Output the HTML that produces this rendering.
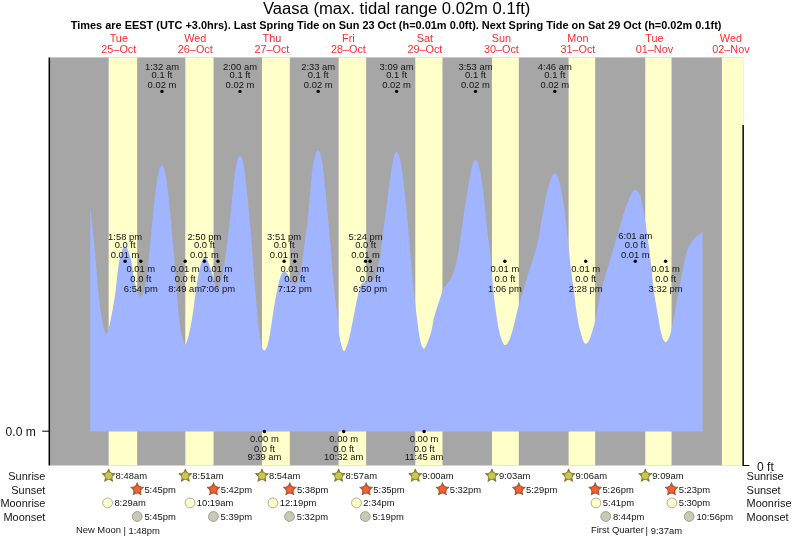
<!DOCTYPE html>
<html lang="en"><head><meta charset="utf-8"><title>Vaasa tide times</title>
<style>html,body{margin:0;padding:0;background:#fff}svg{display:block}text{font-family:"Liberation Sans",Arial,Helvetica,sans-serif}</style></head><body>
<svg width="793" height="539" viewBox="0 0 793 539">
<rect width="793" height="539" fill="#fff"/>
<rect x="50.0" y="57.4" width="693.2" height="408.1" fill="#a6a6a6"/>
<rect x="108.65" y="57.4" width="28.53" height="408.1" fill="#ffffc9"/>
<rect x="185.31" y="57.4" width="28.21" height="408.1" fill="#ffffc9"/>
<rect x="261.97" y="57.4" width="27.84" height="408.1" fill="#ffffc9"/>
<rect x="338.63" y="57.4" width="27.52" height="408.1" fill="#ffffc9"/>
<rect x="415.29" y="57.4" width="27.20" height="408.1" fill="#ffffc9"/>
<rect x="491.95" y="57.4" width="26.88" height="408.1" fill="#ffffc9"/>
<rect x="568.61" y="57.4" width="26.56" height="408.1" fill="#ffffc9"/>
<rect x="645.27" y="57.4" width="26.24" height="408.1" fill="#ffffc9"/>
<rect x="721.92" y="57.4" width="21.28" height="408.1" fill="#ffffc9"/>
<polygon points="90.2,431.6 90.2,207.0 90.7,211.5 91.2,216.0 91.7,220.6 92.2,225.4 92.7,230.2 93.2,235.0 93.7,240.0 94.2,245.0 94.7,250.0 95.2,255.1 95.7,260.4 96.2,265.8 96.7,271.4 97.2,277.5 97.7,283.7 98.2,289.7 98.7,295.1 99.2,299.8 99.7,303.9 100.2,307.8 100.7,311.3 101.2,314.6 101.7,317.7 102.2,320.7 102.7,323.5 103.2,326.0 103.7,328.1 104.2,329.8 104.7,331.2 105.2,332.3 105.7,333.4 106.2,333.7 106.7,333.3 107.2,332.4 107.7,331.5 108.2,330.1 108.7,328.4 109.2,326.6 109.7,324.4 110.2,322.1 110.7,319.6 111.2,317.0 111.7,314.5 112.2,311.9 112.7,309.2 113.2,306.5 113.7,303.6 114.2,300.6 114.7,297.3 115.2,293.7 115.7,289.6 116.2,285.2 116.7,280.7 117.2,276.3 117.7,271.9 118.2,267.9 118.7,264.4 119.2,261.5 119.7,258.9 120.2,256.7 120.7,254.7 121.2,252.9 121.7,251.4 122.2,249.9 122.7,248.8 123.2,248.1 123.7,247.5 124.2,247.0 124.7,246.7 125.2,246.7 125.7,247.0 126.2,247.4 126.7,247.9 127.2,248.5 127.7,249.4 128.2,250.6 128.7,251.9 129.2,253.3 129.7,254.9 130.2,256.7 130.7,258.7 131.2,261.0 131.7,263.8 132.2,267.0 132.7,270.5 133.2,274.0 133.7,277.2 134.2,280.0 134.7,282.4 135.2,284.6 135.7,286.8 136.2,288.7 136.7,290.4 137.2,291.8 137.7,292.9 138.2,293.8 138.7,294.6 139.2,295.4 139.7,296.0 140.2,296.4 140.7,296.6 141.2,296.5 141.7,296.0 142.2,295.2 142.7,294.2 143.2,293.1 143.7,291.8 144.2,290.1 144.7,287.8 145.2,285.2 145.7,282.5 146.2,279.6 146.7,276.3 147.2,272.7 147.7,268.8 148.2,264.6 148.7,260.0 149.2,254.6 149.7,248.9 150.2,243.5 150.7,238.2 151.2,232.9 151.7,227.6 152.2,222.4 152.7,217.4 153.2,212.5 153.7,207.7 154.2,203.1 154.7,198.5 155.2,194.1 155.7,189.8 156.2,185.9 156.7,182.4 157.2,179.4 157.7,176.4 158.2,173.8 158.7,171.5 159.2,169.8 159.7,168.5 160.2,167.4 160.7,166.4 161.2,165.6 161.7,165.2 162.2,165.3 162.7,165.8 163.2,166.7 163.7,167.8 164.2,169.1 164.7,170.6 165.2,172.6 165.7,175.2 166.2,178.2 166.7,181.5 167.2,184.9 167.7,188.8 168.2,193.3 168.7,198.0 169.2,203.0 169.7,208.0 170.2,213.1 170.7,218.3 171.2,223.8 171.7,229.3 172.2,235.0 172.7,240.7 173.2,246.5 173.7,252.3 174.2,258.2 174.7,264.3 175.2,270.5 175.7,277.1 176.2,283.8 176.7,290.6 177.2,297.3 177.7,304.2 178.2,310.1 178.7,315.0 179.2,319.3 179.7,323.1 180.2,326.5 180.7,329.6 181.2,332.4 181.7,334.8 182.2,337.0 182.7,338.8 183.2,340.6 183.7,342.3 184.2,343.7 184.7,344.5 185.2,344.7 185.7,344.2 186.2,343.2 186.7,341.8 187.2,340.3 187.7,338.6 188.2,337.1 188.7,335.2 189.2,333.2 189.7,330.9 190.2,328.5 190.7,326.0 191.2,323.3 191.7,320.5 192.2,317.4 192.7,314.2 193.2,310.8 193.7,307.3 194.2,303.2 194.7,299.3 195.2,295.5 195.7,291.9 196.2,288.5 196.7,285.2 197.2,282.2 197.7,279.2 198.2,276.3 198.7,273.6 199.2,271.1 199.7,268.9 200.2,266.8 200.7,264.9 201.2,263.1 201.7,261.5 202.2,260.3 202.7,259.2 203.2,258.2 203.7,257.4 204.2,256.9 204.7,257.0 205.2,257.4 205.7,258.0 206.2,258.7 206.7,259.5 207.2,260.3 207.7,261.3 208.2,262.4 208.7,263.5 209.2,264.8 209.7,266.0 210.2,267.5 210.7,269.1 211.2,270.7 211.7,272.4 212.2,274.1 212.7,275.8 213.2,277.5 213.7,279.0 214.2,280.5 214.7,282.1 215.2,283.8 215.7,285.5 216.2,287.0 216.7,288.2 217.2,288.9 217.7,288.9 218.2,288.3 218.7,287.2 219.2,285.6 219.7,283.8 220.2,282.0 220.7,280.2 221.2,278.5 221.7,276.6 222.2,274.6 222.7,272.5 223.2,270.1 223.7,267.7 224.2,265.0 224.7,262.0 225.2,258.5 225.7,254.7 226.2,250.8 226.7,246.9 227.2,242.8 227.7,238.6 228.2,234.3 228.7,229.9 229.2,225.5 229.7,221.0 230.2,216.4 230.7,211.9 231.2,207.3 231.7,202.7 232.2,198.1 232.7,193.3 233.2,188.2 233.7,183.3 234.2,178.8 234.7,174.9 235.2,171.4 235.7,168.1 236.2,165.1 236.7,162.5 237.2,160.6 237.7,159.1 238.2,157.8 238.7,156.7 239.2,155.8 239.7,155.3 240.2,155.2 240.7,155.7 241.2,156.6 241.7,157.7 242.2,159.1 242.7,160.6 243.2,162.7 243.7,165.5 244.2,168.6 244.7,172.1 245.2,175.7 245.7,180.0 246.2,184.8 246.7,189.9 247.2,195.0 247.7,200.0 248.2,204.9 248.7,209.9 249.2,214.9 249.7,220.1 250.2,225.5 250.7,231.2 251.2,237.2 251.7,243.6 252.2,250.3 252.7,257.1 253.2,264.0 253.7,270.9 254.2,277.6 254.7,284.0 255.2,290.0 255.7,295.8 256.2,301.6 256.7,307.3 257.2,312.8 257.7,318.2 258.2,323.3 258.7,328.1 259.2,332.5 259.7,336.6 260.2,340.5 260.7,343.0 261.2,344.7 261.7,346.3 262.2,347.7 262.7,348.8 263.2,349.7 263.7,350.2 264.2,350.4 264.7,350.2 265.2,349.8 265.7,349.3 266.2,348.4 266.7,347.3 267.2,346.0 267.7,344.4 268.2,342.6 268.7,340.4 269.2,337.8 269.7,335.0 270.2,332.2 270.7,329.1 271.2,326.0 271.7,322.7 272.2,319.3 272.7,316.0 273.2,312.6 273.7,309.3 274.2,306.1 274.7,303.1 275.2,300.2 275.7,297.5 276.2,295.0 276.7,292.7 277.2,290.5 277.7,288.1 278.2,285.7 278.7,283.3 279.2,281.2 279.7,279.3 280.2,277.7 280.7,276.1 281.2,274.8 281.7,273.8 282.2,273.1 282.7,272.4 283.2,271.9 283.7,271.5 284.2,271.4 284.7,271.5 285.2,271.7 285.7,272.1 286.2,272.6 286.7,273.2 287.2,273.9 287.7,274.6 288.2,275.4 288.7,276.3 289.2,277.2 289.7,278.1 290.2,279.0 290.7,279.8 291.2,280.7 291.7,281.5 292.2,282.2 292.7,282.8 293.2,283.3 293.7,283.8 294.2,284.0 294.7,284.2 295.2,284.1 295.7,283.8 296.2,283.3 296.7,282.5 297.2,281.6 297.7,280.5 298.2,279.5 298.7,278.2 299.2,276.6 299.7,274.6 300.2,272.3 300.7,269.8 301.2,267.2 301.7,264.4 302.2,261.5 302.7,258.0 303.2,254.3 303.7,250.3 304.2,246.3 304.7,242.4 305.2,238.7 305.7,235.4 306.2,232.2 306.7,228.4 307.2,224.1 307.7,219.3 308.2,214.3 308.7,208.9 309.2,203.5 309.7,197.9 310.2,192.4 310.7,186.9 311.2,180.8 311.7,174.8 312.2,170.0 312.7,166.6 313.2,163.7 313.7,161.2 314.2,159.0 314.7,157.0 315.2,155.2 315.7,153.6 316.2,152.5 316.7,151.7 317.2,151.0 317.7,150.5 318.2,150.3 318.7,150.6 319.2,151.2 319.7,152.1 320.2,153.2 320.7,155.0 321.2,157.1 321.7,159.5 322.2,162.4 322.7,165.6 323.2,169.2 323.7,173.3 324.2,178.0 324.7,183.0 325.2,188.0 325.7,193.0 326.2,198.1 326.7,203.3 327.2,208.5 327.7,213.9 328.2,219.2 328.7,224.7 329.2,230.2 329.7,235.8 330.2,241.4 330.7,247.4 331.2,253.5 331.7,259.7 332.2,266.0 332.7,272.1 333.2,278.1 333.7,283.7 334.2,289.0 334.7,293.8 335.2,298.2 335.7,302.3 336.2,306.4 336.7,310.6 337.2,315.0 337.7,320.0 338.2,325.4 338.7,330.3 339.2,334.2 339.7,337.3 340.2,340.0 340.7,342.4 341.2,344.4 341.7,346.1 342.2,347.8 342.7,349.3 343.2,350.5 343.7,351.1 344.2,351.1 344.7,350.7 345.2,349.9 345.7,348.8 346.2,347.6 346.7,346.3 347.2,345.0 347.7,343.6 348.2,341.9 348.7,339.9 349.2,337.9 349.7,335.7 350.2,333.5 350.7,331.2 351.2,328.9 351.7,326.4 352.2,323.8 352.7,321.2 353.2,318.6 353.7,316.0 354.2,313.5 354.7,310.9 355.2,308.3 355.7,305.7 356.2,303.2 356.7,300.8 357.2,298.4 357.7,296.3 358.2,294.1 358.7,292.2 359.2,290.3 359.7,288.6 360.2,286.9 360.7,285.3 361.2,284.2 361.7,283.7 362.2,283.4 362.7,283.0 363.2,282.8 363.7,282.5 364.2,282.3 364.7,282.2 365.2,282.0 365.7,281.8 366.2,281.7 366.7,281.5 367.2,281.4 367.7,281.3 368.2,281.2 368.7,281.1 369.2,281.0 369.7,280.9 370.2,280.8 370.7,280.7 371.2,280.5 371.7,280.4 372.2,280.2 372.7,279.8 373.2,279.4 373.7,278.8 374.2,278.2 374.7,277.4 375.2,276.6 375.7,275.6 376.2,274.2 376.7,272.6 377.2,270.8 377.7,268.5 378.2,265.8 378.7,262.9 379.2,260.3 379.7,258.1 380.2,255.6 380.7,252.4 381.2,248.7 381.7,244.6 382.2,240.4 382.7,236.4 383.2,232.4 383.7,228.4 384.2,224.5 384.7,220.5 385.2,216.5 385.7,212.4 386.2,208.4 386.7,204.4 387.2,200.4 387.7,196.5 388.2,192.6 388.7,188.8 389.2,185.1 389.7,181.5 390.2,178.0 390.7,174.5 391.2,171.3 391.7,168.1 392.2,165.0 392.7,162.2 393.2,159.8 393.7,157.7 394.2,155.8 394.7,154.4 395.2,153.5 395.7,152.7 396.2,152.1 396.7,151.9 397.2,152.1 397.7,152.7 398.2,153.6 398.7,154.6 399.2,155.8 399.7,157.5 400.2,159.8 400.7,162.3 401.2,164.9 401.7,168.0 402.2,171.4 402.7,175.2 403.2,179.2 403.7,183.3 404.2,187.5 404.7,191.9 405.2,196.5 405.7,201.2 406.2,206.1 406.7,211.2 407.2,216.4 407.7,221.8 408.2,227.3 408.7,233.0 409.2,238.8 409.7,245.4 410.2,251.6 410.7,257.5 411.2,263.2 411.7,268.7 412.2,274.0 412.7,279.2 413.2,284.3 413.7,289.2 414.2,294.0 414.7,298.8 415.2,303.4 415.7,307.8 416.2,312.1 416.7,316.2 417.2,320.2 417.7,324.1 418.2,327.9 418.7,331.5 419.2,334.7 419.7,337.5 420.2,340.0 420.7,342.3 421.2,344.3 421.7,345.6 422.2,346.7 422.7,347.6 423.2,348.3 423.7,348.7 424.2,348.6 424.7,348.2 425.2,347.5 425.7,346.5 426.2,345.4 426.7,344.1 427.2,342.9 427.7,341.7 428.2,340.5 428.7,339.3 429.2,338.0 429.7,336.6 430.2,335.1 430.7,333.4 431.2,331.7 431.7,329.6 432.2,326.9 432.7,323.9 433.2,321.1 433.7,318.9 434.2,317.0 434.7,315.2 435.2,313.5 435.7,311.8 436.2,310.2 436.7,308.6 437.2,307.0 437.7,305.4 438.2,303.9 438.7,302.4 439.2,300.9 439.7,299.4 440.2,297.9 440.7,296.5 441.2,295.0 441.7,293.5 442.2,292.0 442.7,290.6 443.2,289.5 443.7,288.6 444.2,287.7 444.7,287.0 445.2,286.3 445.7,285.7 446.2,285.1 446.7,284.5 447.2,283.9 447.7,283.3 448.2,282.7 448.7,282.1 449.2,281.4 449.7,280.7 450.2,279.8 450.7,278.9 451.2,277.9 451.7,276.8 452.2,275.7 452.7,274.4 453.2,273.1 453.7,271.7 454.2,270.2 454.7,268.6 455.2,266.9 455.7,265.2 456.2,263.3 456.7,261.2 457.2,258.8 457.7,256.3 458.2,253.6 458.7,250.6 459.2,247.2 459.7,243.1 460.2,239.3 460.7,235.7 461.2,232.2 461.7,228.7 462.2,225.2 462.7,221.8 463.2,218.4 463.7,215.0 464.2,211.7 464.7,208.5 465.2,205.2 465.7,202.0 466.2,198.8 466.7,195.7 467.2,192.6 467.7,189.6 468.2,186.5 468.7,183.5 469.2,180.6 469.7,177.6 470.2,174.6 470.7,171.8 471.2,169.3 471.7,167.3 472.2,165.3 472.7,163.6 473.2,162.3 473.7,161.5 474.2,160.7 474.7,160.2 475.2,159.8 475.7,159.9 476.2,160.2 476.7,160.8 477.2,161.6 477.7,162.4 478.2,163.7 478.7,165.3 479.2,167.2 479.7,169.2 480.2,171.4 480.7,174.0 481.2,176.9 481.7,180.0 482.2,183.4 482.7,187.3 483.2,191.5 483.7,196.0 484.2,200.8 484.7,205.7 485.2,210.7 485.7,215.7 486.2,220.6 486.7,225.4 487.2,230.1 487.7,234.4 488.2,238.5 488.7,242.0 489.2,245.2 489.7,248.8 490.2,253.4 490.7,258.8 491.2,264.7 491.7,270.9 492.2,277.1 492.7,283.2 493.2,288.9 493.7,294.1 494.2,298.5 494.7,302.7 495.2,306.5 495.7,310.2 496.2,313.6 496.7,316.9 497.2,320.2 497.7,323.5 498.2,326.5 498.7,329.0 499.2,331.3 499.7,333.5 500.2,335.4 500.7,337.0 501.2,338.4 501.7,339.7 502.2,341.0 502.7,342.2 503.2,343.3 503.7,344.2 504.2,344.8 504.7,345.1 505.2,345.1 505.7,344.9 506.2,344.6 506.7,344.2 507.2,343.7 507.7,343.0 508.2,342.2 508.7,341.3 509.2,340.2 509.7,339.0 510.2,337.7 510.7,336.3 511.2,334.8 511.7,333.2 512.2,331.5 512.7,329.8 513.2,328.0 513.7,326.1 514.2,324.1 514.7,321.9 515.2,319.8 515.7,317.6 516.2,315.4 516.7,313.3 517.2,311.2 517.7,309.1 518.2,307.3 518.7,305.5 519.2,303.9 519.7,302.3 520.2,300.7 520.7,299.2 521.2,297.6 521.7,296.0 522.2,294.3 522.7,292.6 523.2,290.9 523.7,289.2 524.2,287.4 524.7,285.7 525.2,283.9 525.7,282.2 526.2,280.4 526.7,278.7 527.2,277.0 527.7,275.3 528.2,273.7 528.7,272.0 529.2,270.5 529.7,268.9 530.2,267.3 530.7,265.8 531.2,264.2 531.7,262.7 532.2,261.1 532.7,259.6 533.2,258.0 533.7,256.4 534.2,254.8 534.7,253.3 535.2,251.7 535.7,250.1 536.2,248.4 536.7,246.5 537.2,244.5 537.7,242.3 538.2,240.0 538.7,237.4 539.2,234.6 539.7,231.5 540.2,228.3 540.7,225.1 541.2,221.9 541.7,218.9 542.2,216.0 542.7,213.5 543.2,211.5 543.7,209.4 544.2,206.8 544.7,203.3 545.2,200.3 545.7,197.9 546.2,195.7 546.7,193.6 547.2,191.5 547.7,189.5 548.2,187.6 548.7,185.8 549.2,184.1 549.7,182.5 550.2,181.0 550.7,179.6 551.2,178.3 551.7,176.9 552.2,175.7 552.7,174.8 553.2,174.2 553.7,173.7 554.2,173.3 554.7,173.1 555.2,173.2 555.7,173.5 556.2,174.0 556.7,174.6 557.2,175.4 557.7,176.7 558.2,178.2 558.7,179.7 559.2,181.3 559.7,183.0 560.2,184.9 560.7,186.9 561.2,189.4 561.7,192.1 562.2,194.8 562.7,197.7 563.2,200.8 563.7,203.9 564.2,207.3 564.7,211.1 565.2,215.1 565.7,219.4 566.2,223.9 566.7,228.6 567.2,233.4 567.7,238.2 568.2,243.2 568.7,248.2 569.2,253.1 569.7,258.0 570.2,263.1 570.7,268.0 571.2,272.1 571.7,275.8 572.2,279.3 572.7,282.6 573.2,286.0 573.7,289.5 574.2,293.2 574.7,297.4 575.2,301.8 575.7,306.0 576.2,309.6 576.7,313.0 577.2,316.3 577.7,319.2 578.2,322.0 578.7,324.5 579.2,326.8 579.7,328.8 580.2,330.8 580.7,332.6 581.2,334.3 581.7,336.0 582.2,337.8 582.7,339.4 583.2,340.7 583.7,341.8 584.2,342.7 584.7,343.2 585.2,343.6 585.7,343.8 586.2,343.8 586.7,343.6 587.2,343.2 587.7,342.8 588.2,342.1 588.7,341.2 589.2,340.3 589.7,339.1 590.2,337.8 590.7,336.3 591.2,334.8 591.7,333.3 592.2,331.7 592.7,330.0 593.2,328.3 593.7,326.5 594.2,324.5 594.7,322.4 595.2,320.0 595.7,317.6 596.2,315.0 596.7,312.3 597.2,309.7 597.7,307.0 598.2,304.4 598.7,301.6 599.2,298.9 599.7,296.6 600.2,294.4 600.7,292.3 601.2,290.2 601.7,288.3 602.2,286.4 602.7,284.5 603.2,282.7 603.7,281.0 604.2,279.2 604.7,277.5 605.2,275.9 605.7,274.2 606.2,272.6 606.7,271.0 607.2,269.3 607.7,267.7 608.2,266.0 608.7,264.4 609.2,262.7 609.7,261.0 610.2,259.3 610.7,257.6 611.2,256.0 611.7,254.3 612.2,252.7 612.7,251.0 613.2,249.3 613.7,247.6 614.2,245.9 614.7,244.2 615.2,242.5 615.7,240.8 616.2,239.1 616.7,237.4 617.2,235.7 617.7,234.0 618.2,232.3 618.7,230.6 619.2,228.9 619.7,227.1 620.2,225.4 620.7,223.7 621.2,222.1 621.7,220.4 622.2,218.7 622.7,217.0 623.2,215.4 623.7,213.8 624.2,212.2 624.7,210.7 625.2,209.1 625.7,207.6 626.2,206.1 626.7,204.7 627.2,203.3 627.7,202.0 628.2,200.8 628.7,199.7 629.2,198.6 629.7,197.5 630.2,196.4 630.7,195.4 631.2,194.4 631.7,193.3 632.2,192.4 632.7,191.6 633.2,191.0 633.7,190.5 634.2,190.2 634.7,190.0 635.2,189.9 635.7,190.0 636.2,190.2 636.7,190.4 637.2,190.8 637.7,191.3 638.2,191.9 638.7,192.6 639.2,193.4 639.7,194.3 640.2,195.6 640.7,197.3 641.2,199.4 641.7,201.7 642.2,204.1 642.7,206.5 643.2,209.0 643.7,211.8 644.2,214.7 644.7,217.7 645.2,220.9 645.7,224.1 646.2,227.5 646.7,230.9 647.2,234.4 647.7,237.9 648.2,241.4 648.7,245.0 649.2,248.8 649.7,252.8 650.2,257.2 650.7,261.9 651.2,266.8 651.7,271.7 652.2,276.6 652.7,281.2 653.2,285.4 653.7,289.2 654.2,292.8 654.7,296.2 655.2,299.5 655.7,302.6 656.2,305.6 656.7,308.6 657.2,311.5 657.7,314.4 658.2,317.3 658.7,320.2 659.2,323.1 659.7,326.0 660.2,328.7 660.7,331.1 661.2,333.2 661.7,335.1 662.2,336.9 662.7,338.4 663.2,339.5 663.7,340.3 664.2,341.0 664.7,341.6 665.2,342.0 665.7,342.1 666.2,341.9 666.7,341.5 667.2,341.0 667.7,340.3 668.2,339.6 668.7,338.8 669.2,337.6 669.7,336.1 670.2,334.4 670.7,332.7 671.2,330.8 671.7,328.6 672.2,326.2 672.7,323.7 673.2,321.1 673.7,318.5 674.2,315.9 674.7,313.3 675.2,310.6 675.7,307.9 676.2,305.2 676.7,302.4 677.2,299.6 677.7,296.8 678.2,294.1 678.7,291.3 679.2,288.6 679.7,285.9 680.2,283.2 680.7,280.5 681.2,277.8 681.7,275.1 682.2,272.4 682.7,269.9 683.2,267.4 683.7,264.9 684.2,262.4 684.7,260.0 685.2,257.6 685.7,255.4 686.2,253.4 686.7,251.8 687.2,250.4 687.7,249.1 688.2,247.9 688.7,246.8 689.2,245.8 689.7,244.9 690.2,244.0 690.7,243.1 691.2,242.4 691.7,241.7 692.2,241.0 692.7,240.4 693.2,239.8 693.7,239.3 694.2,238.8 694.7,238.3 695.2,237.9 695.7,237.4 696.2,237.0 696.7,236.6 697.2,236.1 697.7,235.7 698.2,235.3 698.7,234.9 699.2,234.5 699.7,234.1 700.2,233.7 700.7,233.3 701.2,233.0 701.7,232.6 702.6,232.0 702.6,431.6" fill="#a0b4ff"/>
<line x1="49.3" y1="57.4" x2="49.3" y2="465.5" stroke="#000" stroke-width="1.5"/>
<line x1="42.3" y1="431.2" x2="49.3" y2="431.2" stroke="#000" stroke-width="1"/>
<line x1="743.15" y1="125.1" x2="743.15" y2="465.7" stroke="#111" stroke-width="1.6"/>
<line x1="743.15" y1="465.5" x2="749.5" y2="465.5" stroke="#000" stroke-width="1"/>
<text x="5.6" y="435.8" font-size="12.10" fill="#141414">0.0 m</text>
<text x="757" y="470.5" font-size="12.10" fill="#141414">0 ft</text>
<text x="396.7" y="14.2" font-size="16.62" text-anchor="middle" fill="#000">Vaasa (max. tidal range 0.02m 0.1ft)</text>
<text x="396.1" y="28.5" font-size="10.94" font-weight="bold" text-anchor="middle" fill="#000">Times are EEST (UTC +3.0hrs). Last Spring Tide on Sun 23 Oct (h=0.01m 0.0ft). Next Spring Tide on Sat 29 Oct (h=0.02m 0.1ft)</text>
<text x="118.8" y="41.7" font-size="10.85" text-anchor="middle" fill="#ff2b2b">Tue</text>
<text x="118.8" y="52.8" font-size="10.85" text-anchor="middle" fill="#ff2b2b">25–Oct</text>
<text x="195.3" y="41.7" font-size="10.85" text-anchor="middle" fill="#ff2b2b">Wed</text>
<text x="195.3" y="52.8" font-size="10.85" text-anchor="middle" fill="#ff2b2b">26–Oct</text>
<text x="271.9" y="41.7" font-size="10.85" text-anchor="middle" fill="#ff2b2b">Thu</text>
<text x="271.9" y="52.8" font-size="10.85" text-anchor="middle" fill="#ff2b2b">27–Oct</text>
<text x="348.4" y="41.7" font-size="10.85" text-anchor="middle" fill="#ff2b2b">Fri</text>
<text x="348.4" y="52.8" font-size="10.85" text-anchor="middle" fill="#ff2b2b">28–Oct</text>
<text x="424.9" y="41.7" font-size="10.85" text-anchor="middle" fill="#ff2b2b">Sat</text>
<text x="424.9" y="52.8" font-size="10.85" text-anchor="middle" fill="#ff2b2b">29–Oct</text>
<text x="501.4" y="41.7" font-size="10.85" text-anchor="middle" fill="#ff2b2b">Sun</text>
<text x="501.4" y="52.8" font-size="10.85" text-anchor="middle" fill="#ff2b2b">30–Oct</text>
<text x="577.9" y="41.7" font-size="10.85" text-anchor="middle" fill="#ff2b2b">Mon</text>
<text x="577.9" y="52.8" font-size="10.85" text-anchor="middle" fill="#ff2b2b">31–Oct</text>
<text x="654.4" y="41.7" font-size="10.85" text-anchor="middle" fill="#ff2b2b">Tue</text>
<text x="654.4" y="52.8" font-size="10.85" text-anchor="middle" fill="#ff2b2b">01–Nov</text>
<text x="730.9" y="41.7" font-size="10.85" text-anchor="middle" fill="#ff2b2b">Wed</text>
<text x="730.9" y="52.8" font-size="10.85" text-anchor="middle" fill="#ff2b2b">02–Nov</text>
<circle cx="125.1" cy="261.3" r="1.7" fill="#000"/>
<text x="125.1" y="258.0" font-size="9.42" text-anchor="middle" fill="#141414">0.01 m</text>
<text x="125.1" y="248.1" font-size="9.42" text-anchor="middle" fill="#141414">0.0 ft</text>
<text x="125.1" y="240.3" font-size="9.42" text-anchor="middle" fill="#141414">1:58 pm</text>
<circle cx="140.8" cy="261.3" r="1.7" fill="#000"/>
<text x="140.8" y="271.8" font-size="9.42" text-anchor="middle" fill="#141414">0.01 m</text>
<text x="140.8" y="282.0" font-size="9.42" text-anchor="middle" fill="#141414">0.0 ft</text>
<text x="140.8" y="291.6" font-size="9.42" text-anchor="middle" fill="#141414">6:54 pm</text>
<circle cx="162.0" cy="91.4" r="1.7" fill="#000"/>
<text x="162.0" y="88.1" font-size="9.42" text-anchor="middle" fill="#141414">0.02 m</text>
<text x="162.0" y="78.2" font-size="9.42" text-anchor="middle" fill="#141414">0.1 ft</text>
<text x="162.0" y="69.5" font-size="9.42" text-anchor="middle" fill="#141414">1:32 am</text>
<circle cx="185.2" cy="261.3" r="1.7" fill="#000"/>
<text x="185.2" y="271.8" font-size="9.42" text-anchor="middle" fill="#141414">0.01 m</text>
<text x="185.2" y="282.0" font-size="9.42" text-anchor="middle" fill="#141414">0.0 ft</text>
<text x="185.2" y="291.6" font-size="9.42" text-anchor="middle" fill="#141414">8:49 am</text>
<circle cx="204.4" cy="261.3" r="1.7" fill="#000"/>
<text x="204.4" y="258.0" font-size="9.42" text-anchor="middle" fill="#141414">0.01 m</text>
<text x="204.4" y="248.1" font-size="9.42" text-anchor="middle" fill="#141414">0.0 ft</text>
<text x="204.4" y="240.3" font-size="9.42" text-anchor="middle" fill="#141414">2:50 pm</text>
<circle cx="218.0" cy="261.3" r="1.7" fill="#000"/>
<text x="218.0" y="271.8" font-size="9.42" text-anchor="middle" fill="#141414">0.01 m</text>
<text x="218.0" y="282.0" font-size="9.42" text-anchor="middle" fill="#141414">0.0 ft</text>
<text x="218.0" y="291.6" font-size="9.42" text-anchor="middle" fill="#141414">7:06 pm</text>
<circle cx="240.0" cy="91.4" r="1.7" fill="#000"/>
<text x="240.0" y="88.1" font-size="9.42" text-anchor="middle" fill="#141414">0.02 m</text>
<text x="240.0" y="78.2" font-size="9.42" text-anchor="middle" fill="#141414">0.1 ft</text>
<text x="240.0" y="69.5" font-size="9.42" text-anchor="middle" fill="#141414">2:00 am</text>
<circle cx="264.4" cy="431.5" r="1.7" fill="#000"/>
<text x="264.4" y="441.9" font-size="9.42" text-anchor="middle" fill="#141414">0.00 m</text>
<text x="264.4" y="452.2" font-size="9.42" text-anchor="middle" fill="#141414">0.0 ft</text>
<text x="264.4" y="459.7" font-size="9.42" text-anchor="middle" fill="#141414">9:39 am</text>
<circle cx="284.1" cy="261.3" r="1.7" fill="#000"/>
<text x="284.1" y="258.0" font-size="9.42" text-anchor="middle" fill="#141414">0.01 m</text>
<text x="284.1" y="248.1" font-size="9.42" text-anchor="middle" fill="#141414">0.0 ft</text>
<text x="284.1" y="240.3" font-size="9.42" text-anchor="middle" fill="#141414">3:51 pm</text>
<circle cx="294.8" cy="261.3" r="1.7" fill="#000"/>
<text x="294.8" y="271.8" font-size="9.42" text-anchor="middle" fill="#141414">0.01 m</text>
<text x="294.8" y="282.0" font-size="9.42" text-anchor="middle" fill="#141414">0.0 ft</text>
<text x="294.8" y="291.6" font-size="9.42" text-anchor="middle" fill="#141414">7:12 pm</text>
<circle cx="318.2" cy="91.4" r="1.7" fill="#000"/>
<text x="318.2" y="88.1" font-size="9.42" text-anchor="middle" fill="#141414">0.02 m</text>
<text x="318.2" y="78.2" font-size="9.42" text-anchor="middle" fill="#141414">0.1 ft</text>
<text x="318.2" y="69.5" font-size="9.42" text-anchor="middle" fill="#141414">2:33 am</text>
<circle cx="343.7" cy="431.5" r="1.7" fill="#000"/>
<text x="343.7" y="441.9" font-size="9.42" text-anchor="middle" fill="#141414">0.00 m</text>
<text x="343.7" y="452.2" font-size="9.42" text-anchor="middle" fill="#141414">0.0 ft</text>
<text x="343.7" y="459.7" font-size="9.42" text-anchor="middle" fill="#141414">10:32 am</text>
<circle cx="365.6" cy="261.3" r="1.7" fill="#000"/>
<text x="365.6" y="258.0" font-size="9.42" text-anchor="middle" fill="#141414">0.01 m</text>
<text x="365.6" y="248.1" font-size="9.42" text-anchor="middle" fill="#141414">0.0 ft</text>
<text x="365.6" y="240.3" font-size="9.42" text-anchor="middle" fill="#141414">5:24 pm</text>
<circle cx="370.1" cy="261.3" r="1.7" fill="#000"/>
<text x="370.1" y="271.8" font-size="9.42" text-anchor="middle" fill="#141414">0.01 m</text>
<text x="370.1" y="282.0" font-size="9.42" text-anchor="middle" fill="#141414">0.0 ft</text>
<text x="370.1" y="291.6" font-size="9.42" text-anchor="middle" fill="#141414">6:50 pm</text>
<circle cx="396.6" cy="91.4" r="1.7" fill="#000"/>
<text x="396.6" y="88.1" font-size="9.42" text-anchor="middle" fill="#141414">0.02 m</text>
<text x="396.6" y="78.2" font-size="9.42" text-anchor="middle" fill="#141414">0.1 ft</text>
<text x="396.6" y="69.5" font-size="9.42" text-anchor="middle" fill="#141414">3:09 am</text>
<circle cx="424.1" cy="431.5" r="1.7" fill="#000"/>
<text x="424.1" y="441.9" font-size="9.42" text-anchor="middle" fill="#141414">0.00 m</text>
<text x="424.1" y="452.2" font-size="9.42" text-anchor="middle" fill="#141414">0.0 ft</text>
<text x="424.1" y="459.7" font-size="9.42" text-anchor="middle" fill="#141414">11:45 am</text>
<circle cx="475.5" cy="91.4" r="1.7" fill="#000"/>
<text x="475.5" y="88.1" font-size="9.42" text-anchor="middle" fill="#141414">0.02 m</text>
<text x="475.5" y="78.2" font-size="9.42" text-anchor="middle" fill="#141414">0.1 ft</text>
<text x="475.5" y="69.5" font-size="9.42" text-anchor="middle" fill="#141414">3:53 am</text>
<circle cx="504.9" cy="261.3" r="1.7" fill="#000"/>
<text x="504.9" y="271.8" font-size="9.42" text-anchor="middle" fill="#141414">0.01 m</text>
<text x="504.9" y="282.0" font-size="9.42" text-anchor="middle" fill="#141414">0.0 ft</text>
<text x="504.9" y="291.6" font-size="9.42" text-anchor="middle" fill="#141414">1:06 pm</text>
<circle cx="554.8" cy="91.4" r="1.7" fill="#000"/>
<text x="554.8" y="88.1" font-size="9.42" text-anchor="middle" fill="#141414">0.02 m</text>
<text x="554.8" y="78.2" font-size="9.42" text-anchor="middle" fill="#141414">0.1 ft</text>
<text x="554.8" y="69.5" font-size="9.42" text-anchor="middle" fill="#141414">4:46 am</text>
<circle cx="585.7" cy="261.3" r="1.7" fill="#000"/>
<text x="585.7" y="271.8" font-size="9.42" text-anchor="middle" fill="#141414">0.01 m</text>
<text x="585.7" y="282.0" font-size="9.42" text-anchor="middle" fill="#141414">0.0 ft</text>
<text x="585.7" y="291.6" font-size="9.42" text-anchor="middle" fill="#141414">2:28 pm</text>
<circle cx="635.3" cy="261.3" r="1.7" fill="#000"/>
<text x="635.3" y="258.0" font-size="9.42" text-anchor="middle" fill="#141414">0.01 m</text>
<text x="635.3" y="248.1" font-size="9.42" text-anchor="middle" fill="#141414">0.0 ft</text>
<text x="635.3" y="239.4" font-size="9.42" text-anchor="middle" fill="#141414">6:01 am</text>
<circle cx="665.6" cy="261.3" r="1.7" fill="#000"/>
<text x="665.6" y="271.8" font-size="9.42" text-anchor="middle" fill="#141414">0.01 m</text>
<text x="665.6" y="282.0" font-size="9.42" text-anchor="middle" fill="#141414">0.0 ft</text>
<text x="665.6" y="291.6" font-size="9.42" text-anchor="middle" fill="#141414">3:32 pm</text>
<text x="45.4" y="479.9" font-size="10.95" text-anchor="end" fill="#141414">Sunrise</text>
<text x="746.6" y="479.9" font-size="10.95" fill="#141414">Sunrise</text>
<text x="45.4" y="493.5" font-size="10.95" text-anchor="end" fill="#141414">Sunset</text>
<text x="746.6" y="493.5" font-size="10.95" fill="#141414">Sunset</text>
<text x="45.4" y="507.1" font-size="10.95" text-anchor="end" fill="#141414">Moonrise</text>
<text x="746.6" y="507.1" font-size="10.95" fill="#141414">Moonrise</text>
<text x="45.4" y="520.7" font-size="10.95" text-anchor="end" fill="#141414">Moonset</text>
<text x="746.6" y="520.7" font-size="10.95" fill="#141414">Moonset</text>
<polygon points="108.65,468.90 110.47,473.29 115.21,473.67 111.60,476.76 112.71,481.38 108.65,478.90 104.59,481.38 105.70,476.76 102.09,473.67 106.83,473.29" fill="#b5832a" stroke="#6e4a14" stroke-width="0.6"/>
<circle cx="108.6" cy="475.8" r="3.9" fill="#c6c84f" stroke="#7c7c26" stroke-width="0.7"/>
<text x="115.6" y="479.3" font-size="9.42" fill="#141414">8:48am</text>
<polygon points="137.18,482.50 139.00,486.89 143.74,487.27 140.13,490.36 141.23,494.98 137.18,492.50 133.12,494.98 134.23,490.36 130.62,487.27 135.36,486.89" fill="#a8702a" stroke="#6e4a14" stroke-width="0.6"/>
<circle cx="137.2" cy="489.4" r="3.9" fill="#e9643b" stroke="#c83a22" stroke-width="0.8"/>
<text x="144.4" y="492.8" font-size="9.42" fill="#141414">5:45pm</text>
<polygon points="185.31,468.90 187.13,473.29 191.87,473.67 188.26,476.76 189.37,481.38 185.31,478.90 181.25,481.38 182.36,476.76 178.75,473.67 183.49,473.29" fill="#b5832a" stroke="#6e4a14" stroke-width="0.6"/>
<circle cx="185.3" cy="475.8" r="3.9" fill="#c6c84f" stroke="#7c7c26" stroke-width="0.7"/>
<text x="192.3" y="479.3" font-size="9.42" fill="#141414">8:51am</text>
<polygon points="213.52,482.50 215.34,486.89 220.08,487.27 216.47,490.36 217.57,494.98 213.52,492.50 209.46,494.98 210.57,490.36 206.96,487.27 211.70,486.89" fill="#a8702a" stroke="#6e4a14" stroke-width="0.6"/>
<circle cx="213.5" cy="489.4" r="3.9" fill="#e9643b" stroke="#c83a22" stroke-width="0.8"/>
<text x="220.7" y="492.8" font-size="9.42" fill="#141414">5:42pm</text>
<polygon points="261.97,468.90 263.79,473.29 268.53,473.67 264.92,476.76 266.02,481.38 261.97,478.90 257.91,481.38 259.02,476.76 255.41,473.67 260.15,473.29" fill="#b5832a" stroke="#6e4a14" stroke-width="0.6"/>
<circle cx="262.0" cy="475.8" r="3.9" fill="#c6c84f" stroke="#7c7c26" stroke-width="0.7"/>
<text x="269.0" y="479.3" font-size="9.42" fill="#141414">8:54am</text>
<polygon points="289.81,482.50 291.63,486.89 296.37,487.27 292.75,490.36 293.86,494.98 289.81,492.50 285.75,494.98 286.86,490.36 283.24,487.27 287.98,486.89" fill="#a8702a" stroke="#6e4a14" stroke-width="0.6"/>
<circle cx="289.8" cy="489.4" r="3.9" fill="#e9643b" stroke="#c83a22" stroke-width="0.8"/>
<text x="297.0" y="492.8" font-size="9.42" fill="#141414">5:38pm</text>
<polygon points="338.63,468.90 340.45,473.29 345.19,473.67 341.58,476.76 342.68,481.38 338.63,478.90 334.57,481.38 335.68,476.76 332.07,473.67 336.81,473.29" fill="#b5832a" stroke="#6e4a14" stroke-width="0.6"/>
<circle cx="338.6" cy="475.8" r="3.9" fill="#c6c84f" stroke="#7c7c26" stroke-width="0.7"/>
<text x="345.6" y="479.3" font-size="9.42" fill="#141414">8:57am</text>
<polygon points="366.15,482.50 367.97,486.89 372.71,487.27 369.10,490.36 370.20,494.98 366.15,492.50 362.09,494.98 363.20,490.36 359.58,487.27 364.32,486.89" fill="#a8702a" stroke="#6e4a14" stroke-width="0.6"/>
<circle cx="366.1" cy="489.4" r="3.9" fill="#e9643b" stroke="#c83a22" stroke-width="0.8"/>
<text x="373.3" y="492.8" font-size="9.42" fill="#141414">5:35pm</text>
<polygon points="415.29,468.90 417.11,473.29 421.85,473.67 418.24,476.76 419.34,481.38 415.29,478.90 411.23,481.38 412.34,476.76 408.73,473.67 413.47,473.29" fill="#b5832a" stroke="#6e4a14" stroke-width="0.6"/>
<circle cx="415.3" cy="475.8" r="3.9" fill="#c6c84f" stroke="#7c7c26" stroke-width="0.7"/>
<text x="422.3" y="479.3" font-size="9.42" fill="#141414">9:00am</text>
<polygon points="442.49,482.50 444.31,486.89 449.05,487.27 445.44,490.36 446.54,494.98 442.49,492.50 438.43,494.98 439.54,490.36 435.93,487.27 440.67,486.89" fill="#a8702a" stroke="#6e4a14" stroke-width="0.6"/>
<circle cx="442.5" cy="489.4" r="3.9" fill="#e9643b" stroke="#c83a22" stroke-width="0.8"/>
<text x="449.7" y="492.8" font-size="9.42" fill="#141414">5:32pm</text>
<polygon points="491.95,468.90 493.77,473.29 498.51,473.67 494.90,476.76 496.00,481.38 491.95,478.90 487.89,481.38 489.00,476.76 485.38,473.67 490.12,473.29" fill="#b5832a" stroke="#6e4a14" stroke-width="0.6"/>
<circle cx="491.9" cy="475.8" r="3.9" fill="#c6c84f" stroke="#7c7c26" stroke-width="0.7"/>
<text x="498.9" y="479.3" font-size="9.42" fill="#141414">9:03am</text>
<polygon points="518.83,482.50 520.65,486.89 525.39,487.27 521.78,490.36 522.88,494.98 518.83,492.50 514.77,494.98 515.88,490.36 512.27,487.27 517.01,486.89" fill="#a8702a" stroke="#6e4a14" stroke-width="0.6"/>
<circle cx="518.8" cy="489.4" r="3.9" fill="#e9643b" stroke="#c83a22" stroke-width="0.8"/>
<text x="526.0" y="492.8" font-size="9.42" fill="#141414">5:29pm</text>
<polygon points="568.61,468.90 570.43,473.29 575.17,473.67 571.55,476.76 572.66,481.38 568.61,478.90 564.55,481.38 565.66,476.76 562.04,473.67 566.78,473.29" fill="#b5832a" stroke="#6e4a14" stroke-width="0.6"/>
<circle cx="568.6" cy="475.8" r="3.9" fill="#c6c84f" stroke="#7c7c26" stroke-width="0.7"/>
<text x="575.6" y="479.3" font-size="9.42" fill="#141414">9:06am</text>
<polygon points="595.17,482.50 596.99,486.89 601.73,487.27 598.12,490.36 599.22,494.98 595.17,492.50 591.11,494.98 592.22,490.36 588.61,487.27 593.35,486.89" fill="#a8702a" stroke="#6e4a14" stroke-width="0.6"/>
<circle cx="595.2" cy="489.4" r="3.9" fill="#e9643b" stroke="#c83a22" stroke-width="0.8"/>
<text x="602.4" y="492.8" font-size="9.42" fill="#141414">5:26pm</text>
<polygon points="645.27,468.90 647.09,473.29 651.83,473.67 648.21,476.76 649.32,481.38 645.27,478.90 641.21,481.38 642.32,476.76 638.70,473.67 643.44,473.29" fill="#b5832a" stroke="#6e4a14" stroke-width="0.6"/>
<circle cx="645.3" cy="475.8" r="3.9" fill="#c6c84f" stroke="#7c7c26" stroke-width="0.7"/>
<text x="652.3" y="479.3" font-size="9.42" fill="#141414">9:09am</text>
<polygon points="671.51,482.50 673.33,486.89 678.07,487.27 674.46,490.36 675.57,494.98 671.51,492.50 667.45,494.98 668.56,490.36 664.95,487.27 669.69,486.89" fill="#a8702a" stroke="#6e4a14" stroke-width="0.6"/>
<circle cx="671.5" cy="489.4" r="3.9" fill="#e9643b" stroke="#c83a22" stroke-width="0.8"/>
<text x="678.7" y="492.8" font-size="9.42" fill="#141414">5:23pm</text>
<circle cx="107.6" cy="502.9" r="4.9" fill="#ffffc8" stroke="#9a9a9a" stroke-width="0.8"/>
<text x="114.4" y="505.7" font-size="9.42" fill="#141414">8:29am</text>
<circle cx="190.0" cy="502.9" r="4.9" fill="#ffffc8" stroke="#9a9a9a" stroke-width="0.8"/>
<text x="196.8" y="505.7" font-size="9.42" fill="#141414">10:19am</text>
<circle cx="272.9" cy="502.9" r="4.9" fill="#ffffc8" stroke="#9a9a9a" stroke-width="0.8"/>
<text x="279.7" y="505.7" font-size="9.42" fill="#141414">12:19pm</text>
<circle cx="356.5" cy="502.9" r="4.9" fill="#ffffc8" stroke="#9a9a9a" stroke-width="0.8"/>
<text x="363.3" y="505.7" font-size="9.42" fill="#141414">2:34pm</text>
<circle cx="596.0" cy="502.9" r="4.9" fill="#ffffc8" stroke="#9a9a9a" stroke-width="0.8"/>
<text x="602.8" y="505.7" font-size="9.42" fill="#141414">5:41pm</text>
<circle cx="671.9" cy="502.9" r="4.9" fill="#ffffc8" stroke="#9a9a9a" stroke-width="0.8"/>
<text x="678.7" y="505.7" font-size="9.42" fill="#141414">5:30pm</text>
<circle cx="137.2" cy="516.5" r="4.9" fill="#c9c9b6" stroke="#8c8c8c" stroke-width="0.8"/>
<text x="144.4" y="519.9" font-size="9.42" fill="#141414">5:45pm</text>
<circle cx="213.4" cy="516.5" r="4.9" fill="#c9c9b6" stroke="#8c8c8c" stroke-width="0.8"/>
<text x="220.6" y="519.9" font-size="9.42" fill="#141414">5:39pm</text>
<circle cx="289.5" cy="516.5" r="4.9" fill="#c9c9b6" stroke="#8c8c8c" stroke-width="0.8"/>
<text x="296.7" y="519.9" font-size="9.42" fill="#141414">5:32pm</text>
<circle cx="365.3" cy="516.5" r="4.9" fill="#c9c9b6" stroke="#8c8c8c" stroke-width="0.8"/>
<text x="372.5" y="519.9" font-size="9.42" fill="#141414">5:19pm</text>
<circle cx="605.7" cy="516.5" r="4.9" fill="#c9c9b6" stroke="#8c8c8c" stroke-width="0.8"/>
<text x="612.9" y="519.9" font-size="9.42" fill="#141414">8:44pm</text>
<circle cx="689.2" cy="516.5" r="4.9" fill="#c9c9b6" stroke="#8c8c8c" stroke-width="0.8"/>
<text x="696.4" y="519.9" font-size="9.42" fill="#141414">10:56pm</text>
<text x="120.9" y="533.3" font-size="9.42" text-anchor="end" fill="#141414">New Moon</text>
<text x="123.4" y="534.3" font-size="9.42" fill="#141414">| 1:48pm</text>
<text x="643.8" y="533.3" font-size="9.42" text-anchor="end" fill="#141414">First Quarter</text>
<text x="645.6" y="534.3" font-size="9.42" fill="#141414">| 9:37am</text>
</svg></body></html>
